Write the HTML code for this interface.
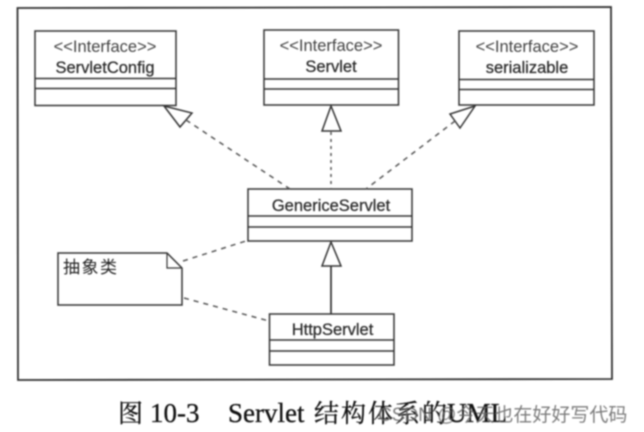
<!DOCTYPE html>
<html><head><meta charset="utf-8"><style>
html,body{margin:0;padding:0;background:#fff;width:644px;height:432px;overflow:hidden}
svg{display:block;filter:blur(.7px)}
text{font-family:"Liberation Sans","Noto Sans CJK SC",sans-serif;fill:#333}
.s{font-size:16.5px;text-anchor:middle;fill:#444}
.n{font-size:16.5px;text-anchor:middle;fill:#2a2a2a;stroke:#2a2a2a;stroke-width:.25px}
.c{font-family:"Liberation Serif","Noto Serif CJK SC",serif;fill:#111;stroke:#111;stroke-width:.3px;font-size:27px}
.z{font-size:25px}
</style></head><body>
<svg width="644" height="432" viewBox="0 0 644 432" xmlns="http://www.w3.org/2000/svg">
<g fill="none" stroke="#333" stroke-width="1.5">
<path d="M17.5 8 L611 7 L612 379 L18 380 Z" stroke-width="1.8"/>
<rect x="35" y="31" width="141" height="74.5"/><path d="M35 78.5H176M35 88.5H176"/>
<rect x="264" y="30" width="134.5" height="75"/><path d="M264 79H398.5M264 89H398.5"/>
<rect x="459" y="31" width="135" height="74"/><path d="M459 79.500H594M459 89.500H594"/>
<rect x="248" y="189" width="164" height="52"/><path d="M248 216H412M248 227H412"/>
<rect x="269.500" y="314" width="124.500" height="51"/><path d="M269.500 340H394M269.500 351H394"/>
<path d="M58 253H167L182 268V305H58Z"/><path d="M167 253V268H182" stroke-width="1.2"/>
<path d="M164 106L192 113L180 127Z"/>
<path d="M331 106L322 131H341Z"/>
<path d="M475 106L450 114L460 128Z"/>
<path d="M331 242L322 266H341Z"/>
<path d="M331 266V314" stroke-width="1.7"/>
<g stroke="#555" stroke-dasharray="5 5">
<path d="M186 120L290 189"/>
<path d="M331 132V189" stroke-dasharray="3 4"/>
<path d="M455 121L366 189"/>
<path d="M183 261L249 240"/>
<path d="M184 298L269 321"/>
</g>
</g>
<text class="s" x="105" y="52">&lt;&lt;Interface&gt;&gt;</text>
<text class="n" x="105" y="73">ServletConfig</text>
<text class="s" x="331" y="51">&lt;&lt;Interface&gt;&gt;</text>
<text class="n" x="331" y="72">Servlet</text>
<text class="s" x="527" y="52">&lt;&lt;Interface&gt;&gt;</text>
<text class="n" x="527" y="73">serializable</text>
<text class="n" x="331" y="211">GenericeServlet</text>
<text class="n" x="332.500" y="335">HttpServlet</text>
<text x="63" y="273" style="font-size:17px;letter-spacing:1.500px;fill:#222">抽象类</text>
<text class="c z" x="118" y="422">图</text>
<text class="c" x="150" y="422">10-3</text>
<text class="c" x="228" y="422">Servlet</text>
<text class="c z" x="314" y="422" style="letter-spacing:2px">结构体系的</text>
<text class="c" x="447" y="422">UML</text>
<text x="378" y="421" style="font-size:19px;fill:#666;opacity:.85">CSDN @今天也在好好写代码</text>
</svg>
</body></html>
